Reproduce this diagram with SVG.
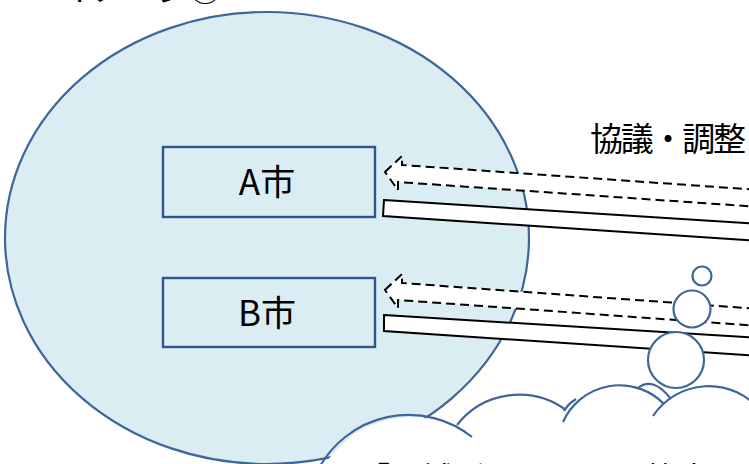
<svg xmlns="http://www.w3.org/2000/svg" width="749" height="464" viewBox="0 0 749 464">
<style>
.t{font-family:"Noto Sans CJK JP","Noto Sans",sans-serif;fill:#000}
.blue{stroke:#3F6699;stroke-width:2.2;}
.box{fill:#DAEDF3;stroke:#2F5590;stroke-width:2.4}
.dash{fill:#fff;stroke:#000;stroke-width:2;stroke-dasharray:9 5}
.bar{fill:#fff;stroke:#000;stroke-width:2}
.bub{fill:#fff;stroke:#3F6699;stroke-width:2.2}
.arc{fill:none;stroke:#3F6699;stroke-width:2.2}
</style>
<rect width="749" height="464" fill="#fff"/>
<text class="t" x="62" y="1" font-size="32">イメージ②</text>
<g id="area">
<ellipse cx="267" cy="238" rx="262" ry="226" fill="#DAEDF3" class="blue"/>
</g>
<g id="nodeA">
<rect class="box" x="163" y="147" width="212" height="70"/>
<text class="t" x="267" y="195" font-size="35" text-anchor="middle">A市</text>
</g>
<g id="nodeB">
<rect class="box" x="163" y="278" width="212" height="69"/>
<text class="t" x="267" y="326" font-size="35" text-anchor="middle">B市</text>
</g>
<g id="connectors">
<polygon class="dash" points="385,172 402,156 402,165 760,190 760,207 398,182 398,190"/>
<polygon class="bar" points="384,200 760,224 760,241 383,216"/>
<polygon class="dash" points="385,290 402,274 402,283 760,309 760,326 398,300 398,308"/>
<polygon class="bar" points="384,315 760,338 760,356 384,331"/>
</g>
<g id="label">
<text class="t" x="590" y="151" font-size="33" textLength="156" lengthAdjust="spacing">協議・調整</text>
</g>
<g id="bubbles">
<circle class="bub" cx="702" cy="276" r="9.5"/>
<circle class="bub" cx="692" cy="309" r="18.5"/>
<circle class="bub" cx="676" cy="360" r="28"/>
</g>
<g id="cloud">
<circle cx="411" cy="519" r="102" fill="#fff"/>
<circle cx="519" cy="474" r="79" fill="#fff"/>
<circle cx="619" cy="446" r="62" fill="#fff"/>
<circle cx="709" cy="451" r="67" fill="#fff"/>
<path class="arc" d="M318,470 A102,102 0 0 1 472,437"/>
<path class="arc" d="M457,425 A79,79 0 0 1 566,410"/>
<path class="arc" d="M563,422 A62,62 0 0 1 664,404"/>
<path class="arc" d="M653,416 A67,67 0 0 1 760,410"/>
<path class="arc" d="M638,388 Q653,376 671,399"/>
<path class="arc" d="M564,411 Q568,404 576,399"/>
<text class="t" x="358" y="490" font-size="32">「圏域ビジョン」の策定</text>
</g>
</svg>
